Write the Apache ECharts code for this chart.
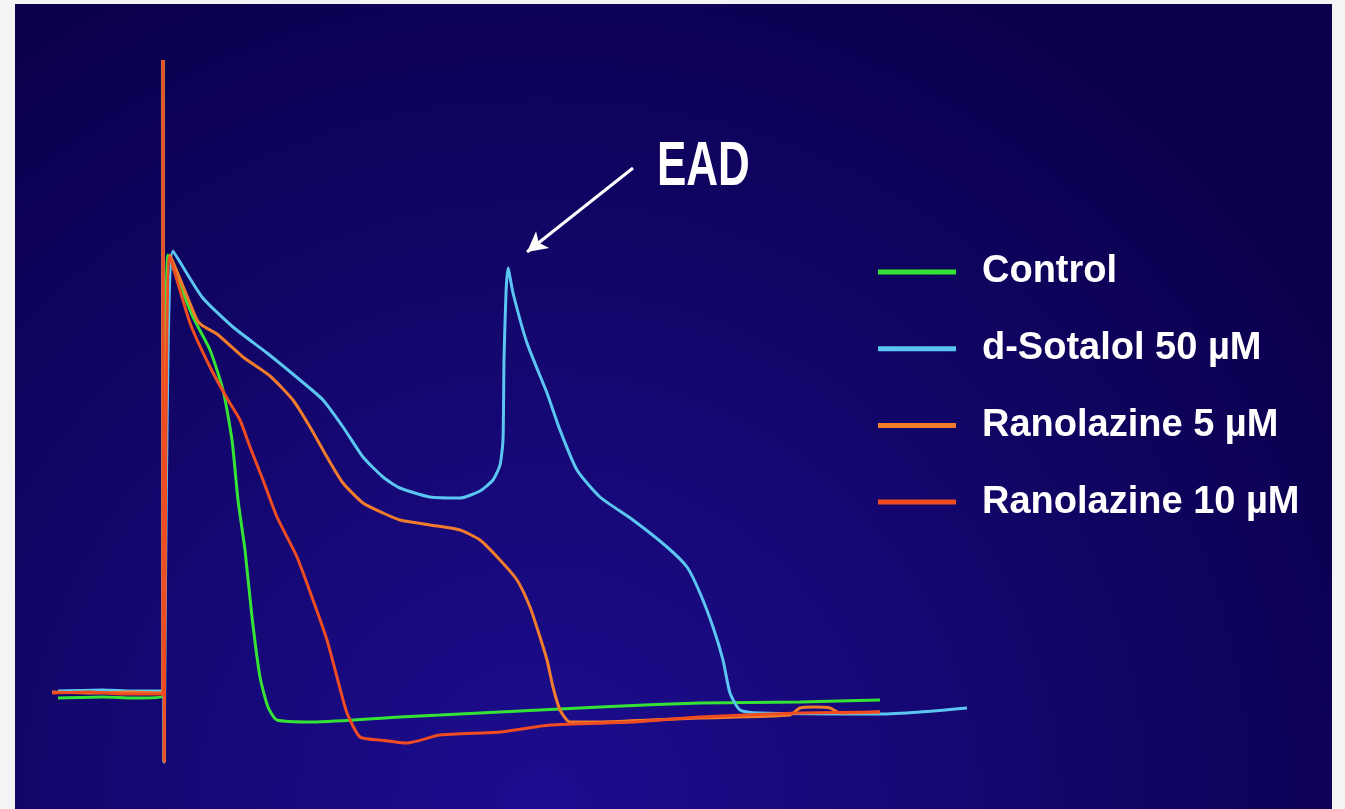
<!DOCTYPE html>
<html>
<head>
<meta charset="utf-8">
<script src="https://cdn.jsdelivr.net/npm/echarts@6/dist/echarts.min.js"></script>
<style>
html,body{margin:0;padding:0;background:#f4f4f4;}
#chart{width:1345px;height:809px;}
</style>
</head>
<body>
<div id="chart"></div>
<script>
// time in ms (stimulus at 0), membrane potential in mV
const seriesNames = ['Control', 'd-Sotalol 50 µM', 'Ranolazine 5 µM', 'Ranolazine 10 µM'];
const seriesColors = ['#35e335', '#5cc6f2', '#f07c2c', '#f04c22'];

const control = [
  [-210,-79.5],[-120,-79.25],[-60,-79.5],[0,-79.25],[0,80],[2,-95.5],
  [10,31.25],[60,15.75],[94,7.5],[120,-2.5],[138,-15],[150,-30],[164,-42.5],
  [178,-59.25],[194,-74.25],[210,-81.75],[228,-85],[300,-85.5],[474,-84.25],
  [554,-83.75],[674,-83],[874,-81.75],[1074,-80.75],[1274,-80.5],[1434,-80]
];
const sotalol = [
  [-210,-77.75],[-120,-77.5],[-60,-77.75],[0,-77.75],[0,80],[2,-95.5],
  [20,32.25],[78,20.75],[140,13.25],[208,6.75],[274,0],[320,-5],[360,-11.75],
  [400,-19.25],[440,-24.25],[474,-27],[534,-29.25],[594,-29.5],[634,-27.75],
  [660,-25],[674,-21.25],[680,-15],[682,5],[686,21.75],[690,28],[700,21.75],
  [728,9.25],[768,-3.25],[794,-12.5],[828,-22.5],[874,-29.25],[940,-35],
  [1008,-41.75],[1048,-46.75],[1074,-53.25],[1100,-61.75],[1120,-70],
  [1134,-78.25],[1154,-82.5],[1194,-83.25],[1434,-83.5],[1514,-83],[1608,-82]
];
const ranolazine5 = [
  [-222,-78],[-140,-78.25],[-70,-78],[0,-78.25],[0,80],[2,-95.5],
  [14,31.25],[68,15],[80,13.5],[108,11.5],[160,5.75],[214,1],[260,-5],
  [294,-11.75],[328,-19.25],[360,-25.75],[400,-30.75],[440,-33.25],
  [474,-35],[534,-36.25],[594,-37.5],[634,-40],[674,-45],[708,-50],
  [734,-56.75],[754,-64.25],[768,-70],[780,-76.75],[794,-82.5],[814,-85.5],
  [874,-85.5],[974,-85],[1074,-84.5],[1254,-83.75],[1274,-82],[1304,-81.75],
  [1334,-82],[1354,-83.25],[1434,-83]
];
const ranolazine10 = [
  [-222,-78.25],[-150,-78],[-80,-78.5],[0,-78.5],[0,80],[2,-95.5],
  [14,30.75],[54,14.25],[94,3.25],[130,-5],[154,-10],[174,-16.75],
  [200,-25],[228,-34.25],[268,-44.25],[300,-55],[328,-65],[348,-74.25],
  [368,-83.25],[394,-89.25],[434,-90],[488,-90.75],[554,-88.75],
  [674,-88],[774,-86.25],[940,-85.5],[1074,-84.25],[1274,-83.25],[1434,-83]
];
// EAD annotation arrow (tail, head) in ms / mV
const eadArrow = [[940,53],[728,32]];
const eadLabel = 'EAD';

const traces = [control, sotalol, ranolazine5, ranolazine10];

const chart = echarts.init(document.getElementById('chart'), null, {renderer:'canvas'});

const series = traces.map((d, i) => {
  const s = {
    name: seriesNames[i],
    type: 'line',
    data: d,
    showSymbol: false,
    symbol: 'none',
    smooth: 0.2,
    animation: false,
    lineStyle: {color: seriesColors[i], width: 3},
    itemStyle: {color: seriesColors[i]},
    z: 2 + i
  };
  if (i === 1) {
    s.markLine = {
      silent: true,
      animation: false,
      symbol: ['none', 'arrow'],
      symbolSize: [16, 20],
      lineStyle: {color: '#ffffff', width: 3, type: 'solid'},
      label: {show: false},
      data: [[{coord: eadArrow[0]}, {coord: eadArrow[1]}]]
    };
  }
  return s;
});

chart.setOption({
  backgroundColor: '#f4f4f4',
  animation: false,
  grid: {
    left: 15, right: 13, top: 4, bottom: 0,
    show: true, borderWidth: 0,
    backgroundColor: {
      type: 'radial', x: 0.4, y: 1, r: 1.15,
      colorStops: [{offset: 0, color: '#1d0d90'}, {offset: 1, color: '#0a004c'}]
    }
  },
  xAxis: {type: 'value', min: -296, max: 2338, show: false},
  yAxis: {type: 'value', min: -107.25, max: 94, show: false},
  legend: {
    data: seriesNames,
    orient: 'vertical',
    left: 873, top: 248,
    itemWidth: 78, itemHeight: 5, itemGap: 38.7,
    icon: 'rect',
    textStyle: {
      color: '#ffffff',
      fontFamily: "Liberation Sans",
      fontWeight: 'bold',
      fontSize: 38,
      lineHeight: 38,
      padding: [0, 0, 0, 21]
    }
  },
  graphic: [{
    type: 'text',
    x: 657, y: 167,
    scaleY: 1.45,
    z: 10,
    style: {
      text: eadLabel,
      fill: '#ffffff',
      fontFamily: 'Liberation Sans',
      fontWeight: 'bold',
      fontSize: 44,
      align: 'left',
      verticalAlign: 'middle'
    }
  }],
  series: series
});
</script>
</body>
</html>
